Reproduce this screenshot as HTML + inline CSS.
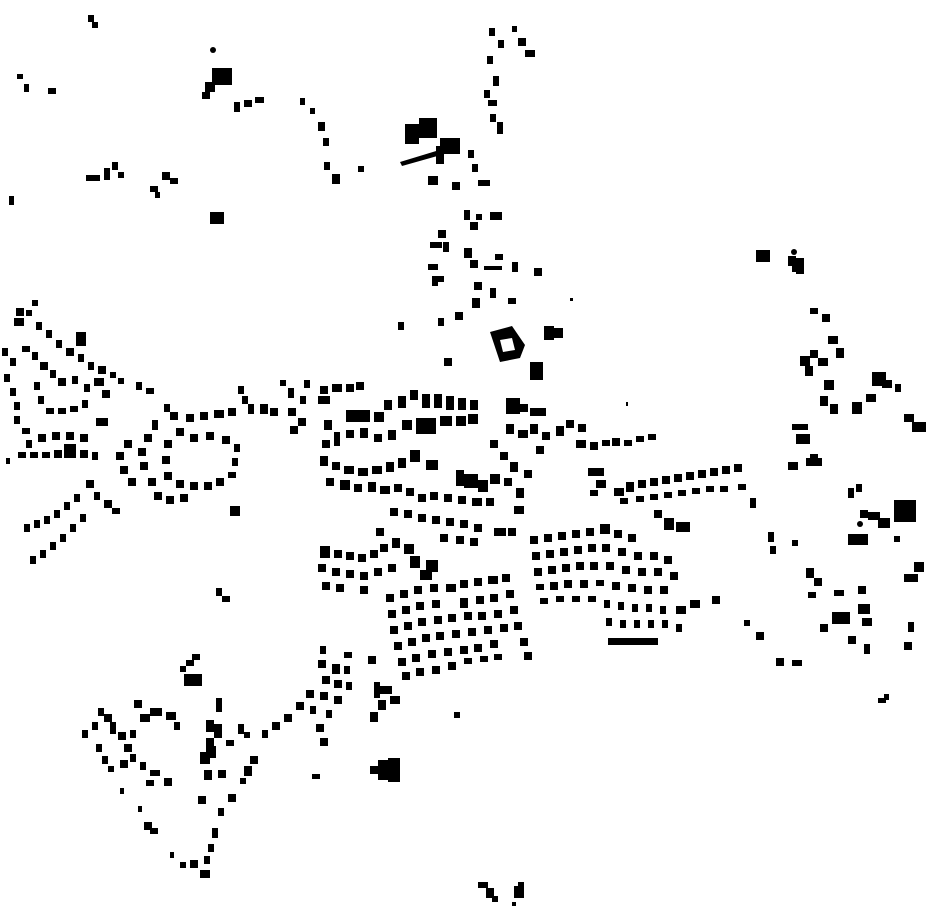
<!DOCTYPE html>
<html><head><meta charset="utf-8"><style>
html,body{margin:0;padding:0;background:#fff;width:930px;height:924px;overflow:hidden}
svg{display:block}
</style></head><body>
<svg width="930" height="924" viewBox="0 0 930 924" xmlns="http://www.w3.org/2000/svg" fill="#000">
<!-- top left -->
<rect x="88" y="15" width="6" height="7"/><rect x="92" y="22" width="6" height="6"/>
<rect x="17" y="74" width="6" height="5"/><rect x="24" y="84" width="5" height="8"/><rect x="48" y="88" width="8" height="6"/>
<circle cx="213" cy="50" r="3"/>
<rect x="212" y="68" width="20" height="17"/><rect x="205" y="82" width="10" height="10"/><rect x="202" y="92" width="8" height="7"/>
<rect x="234" y="102" width="6" height="10"/><rect x="244" y="100" width="8" height="7"/><rect x="255" y="97" width="9" height="6"/>
<rect x="300" y="98" width="5" height="7"/><rect x="310" y="108" width="5" height="6"/><rect x="318" y="122" width="7" height="9"/><rect x="323" y="138" width="6" height="8"/>
<rect x="324" y="162" width="6" height="8"/><rect x="332" y="174" width="8" height="10"/><rect x="358" y="166" width="6" height="6"/>
<rect x="86" y="175" width="14" height="6"/><rect x="104" y="168" width="6" height="12"/><rect x="112" y="162" width="6" height="8"/><rect x="118" y="172" width="6" height="6"/>
<rect x="150" y="186" width="8" height="6"/><rect x="155" y="192" width="5" height="6"/><rect x="162" y="172" width="8" height="8"/><rect x="170" y="178" width="8" height="6"/>
<rect x="9" y="196" width="5" height="9"/><rect x="210" y="212" width="14" height="12"/>
<!-- north street -->
<rect x="489" y="28" width="6" height="8"/><rect x="498" y="40" width="6" height="8"/><rect x="512" y="26" width="5" height="6"/><rect x="518" y="38" width="8" height="8"/><rect x="525" y="50" width="10" height="7"/>
<rect x="487" y="56" width="6" height="8"/><rect x="493" y="76" width="6" height="10"/><rect x="484" y="90" width="6" height="8"/><rect x="488" y="100" width="9" height="6"/>
<rect x="490" y="114" width="6" height="8"/><rect x="497" y="122" width="6" height="12"/>
<rect x="405" y="124" width="14" height="20"/><rect x="419" y="118" width="18" height="20"/><rect x="440" y="138" width="20" height="16"/>
<polygon points="400,162 446,148 448,153 402,166"/><rect x="436" y="146" width="8" height="18"/>
<rect x="428" y="176" width="10" height="9"/><rect x="468" y="150" width="6" height="8"/><rect x="472" y="164" width="6" height="8"/><rect x="478" y="180" width="12" height="6"/><rect x="452" y="182" width="8" height="8"/>
<rect x="464" y="210" width="6" height="10"/><rect x="476" y="214" width="6" height="6"/><rect x="490" y="212" width="12" height="8"/><rect x="470" y="222" width="8" height="8"/>
<rect x="438" y="230" width="8" height="8"/><rect x="430" y="242" width="12" height="6"/><rect x="443" y="242" width="6" height="10"/>
<rect x="464" y="248" width="8" height="10"/><rect x="470" y="260" width="8" height="8"/><rect x="484" y="266" width="18" height="4"/><rect x="495" y="254" width="8" height="6"/>
<rect x="512" y="262" width="6" height="10"/><rect x="534" y="268" width="8" height="8"/>
<rect x="428" y="264" width="10" height="6"/><rect x="432" y="276" width="6" height="10"/><rect x="438" y="276" width="6" height="6"/>
<rect x="474" y="282" width="8" height="8"/><rect x="490" y="288" width="6" height="10"/><rect x="508" y="298" width="8" height="6"/><rect x="472" y="298" width="8" height="10"/>
<rect x="455" y="312" width="8" height="8"/><rect x="438" y="318" width="6" height="8"/><rect x="398" y="322" width="6" height="8"/>
<path d="M490 332 L512 326 L525 345 L520 358 L500 362 Z M500 340 L503 352 L515 350 L512 338 Z" fill-rule="evenodd"/>
<rect x="544" y="326" width="10" height="14"/><rect x="553" y="328" width="10" height="10"/>
<rect x="530" y="362" width="13" height="18"/><rect x="444" y="358" width="8" height="8"/>
<!-- right east -->
<rect x="756" y="250" width="14" height="12"/><circle cx="794" cy="252" r="3"/><rect x="788" y="256" width="8" height="10"/><rect x="796" y="258" width="8" height="16"/><rect x="792" y="264" width="6" height="8"/>
<rect x="810" y="308" width="8" height="6"/><rect x="822" y="314" width="8" height="8"/>
<rect x="828" y="336" width="10" height="8"/><rect x="836" y="348" width="8" height="10"/><rect x="810" y="350" width="8" height="8"/><rect x="800" y="356" width="10" height="10"/><rect x="818" y="358" width="10" height="8"/><rect x="805" y="366" width="8" height="10"/>
<rect x="824" y="380" width="10" height="10"/><rect x="820" y="396" width="8" height="10"/><rect x="830" y="404" width="8" height="10"/>
<rect x="852" y="402" width="10" height="12"/><rect x="866" y="394" width="10" height="8"/><rect x="872" y="372" width="14" height="14"/><rect x="882" y="380" width="10" height="8"/><rect x="895" y="384" width="6" height="8"/>
<rect x="904" y="414" width="10" height="8"/><rect x="912" y="422" width="14" height="10"/>
<rect x="792" y="424" width="16" height="6"/><rect x="796" y="434" width="14" height="10"/>
<rect x="788" y="462" width="10" height="8"/><rect x="806" y="458" width="16" height="8"/><rect x="810" y="454" width="8" height="6"/>
<rect x="848" y="488" width="6" height="10"/><rect x="856" y="484" width="6" height="8"/><rect x="860" y="510" width="8" height="8"/>
<rect x="868" y="512" width="12" height="8"/><rect x="878" y="518" width="12" height="10"/><rect x="894" y="500" width="22" height="22"/>
<circle cx="860" cy="524" r="3"/><rect x="848" y="534" width="20" height="11"/><rect x="894" y="536" width="6" height="6"/>
<rect x="904" y="574" width="14" height="8"/><rect x="914" y="562" width="10" height="10"/>
<rect x="768" y="532" width="6" height="10"/><rect x="770" y="546" width="6" height="8"/><rect x="792" y="540" width="6" height="6"/>
<rect x="806" y="568" width="8" height="10"/><rect x="814" y="578" width="8" height="8"/><rect x="808" y="592" width="8" height="6"/>
<rect x="834" y="590" width="10" height="6"/><rect x="858" y="586" width="8" height="8"/><rect x="832" y="612" width="18" height="12"/>
<rect x="820" y="624" width="8" height="8"/><rect x="848" y="636" width="8" height="8"/><rect x="858" y="604" width="12" height="10"/><rect x="862" y="618" width="10" height="8"/><rect x="864" y="644" width="6" height="10"/>
<rect x="744" y="620" width="6" height="6"/><rect x="756" y="632" width="8" height="8"/><rect x="776" y="658" width="8" height="8"/><rect x="792" y="660" width="10" height="6"/>
<rect x="908" y="622" width="6" height="10"/><rect x="904" y="642" width="8" height="8"/><rect x="878" y="698" width="8" height="5"/><rect x="884" y="694" width="5" height="6"/>
<!-- east band -->
<rect x="576" y="440" width="10" height="8"/><rect x="590" y="442" width="8" height="8"/><rect x="602" y="440" width="8" height="6"/><rect x="612" y="438" width="8" height="8"/><rect x="624" y="440" width="8" height="6"/><rect x="636" y="436" width="8" height="6"/><rect x="648" y="434" width="8" height="6"/>
<rect x="588" y="468" width="16" height="8"/><rect x="596" y="480" width="10" height="8"/><rect x="590" y="490" width="8" height="6"/>
<rect x="614" y="488" width="10" height="8"/><rect x="626" y="482" width="8" height="10"/><rect x="638" y="480" width="8" height="8"/><rect x="650" y="478" width="8" height="8"/><rect x="662" y="476" width="8" height="8"/><rect x="674" y="474" width="8" height="8"/><rect x="686" y="472" width="8" height="8"/><rect x="698" y="470" width="8" height="8"/><rect x="710" y="468" width="8" height="8"/><rect x="722" y="466" width="8" height="8"/><rect x="734" y="464" width="8" height="8"/>
<rect x="620" y="498" width="8" height="6"/><rect x="636" y="496" width="8" height="6"/><rect x="650" y="494" width="8" height="6"/><rect x="664" y="492" width="8" height="6"/><rect x="678" y="490" width="8" height="6"/><rect x="692" y="488" width="8" height="6"/><rect x="706" y="486" width="8" height="6"/><rect x="720" y="486" width="8" height="6"/><rect x="738" y="484" width="8" height="6"/>
<rect x="750" y="498" width="6" height="10"/><rect x="654" y="510" width="8" height="8"/><rect x="664" y="518" width="10" height="12"/><rect x="676" y="522" width="14" height="10"/>
<!-- east grid -->
<rect x="530" y="536" width="8" height="8"/><rect x="544" y="534" width="8" height="8"/><rect x="558" y="532" width="8" height="8"/><rect x="572" y="530" width="8" height="8"/><rect x="586" y="528" width="8" height="8"/><rect x="600" y="524" width="10" height="10"/><rect x="614" y="530" width="8" height="8"/><rect x="628" y="534" width="8" height="8"/>
<rect x="532" y="552" width="8" height="8"/><rect x="546" y="550" width="8" height="8"/><rect x="560" y="548" width="8" height="8"/><rect x="574" y="546" width="8" height="8"/><rect x="588" y="544" width="8" height="8"/><rect x="602" y="544" width="8" height="8"/><rect x="618" y="548" width="8" height="8"/><rect x="634" y="552" width="8" height="8"/><rect x="650" y="552" width="8" height="8"/><rect x="664" y="556" width="8" height="8"/>
<rect x="534" y="568" width="8" height="8"/><rect x="548" y="566" width="8" height="8"/><rect x="562" y="564" width="8" height="8"/><rect x="576" y="562" width="8" height="8"/><rect x="590" y="562" width="8" height="8"/><rect x="606" y="562" width="8" height="8"/><rect x="622" y="566" width="8" height="8"/><rect x="638" y="568" width="8" height="8"/><rect x="654" y="568" width="8" height="8"/><rect x="670" y="572" width="8" height="8"/>
<rect x="536" y="584" width="8" height="6"/><rect x="550" y="582" width="8" height="8"/><rect x="564" y="580" width="8" height="8"/><rect x="580" y="580" width="8" height="8"/><rect x="596" y="580" width="8" height="6"/><rect x="612" y="582" width="8" height="8"/><rect x="628" y="584" width="8" height="8"/><rect x="644" y="586" width="8" height="8"/><rect x="660" y="586" width="8" height="8"/>
<rect x="540" y="598" width="8" height="6"/><rect x="556" y="596" width="8" height="6"/><rect x="572" y="596" width="8" height="6"/><rect x="588" y="596" width="8" height="6"/>
<rect x="604" y="600" width="6" height="8"/><rect x="618" y="602" width="6" height="8"/><rect x="632" y="604" width="6" height="8"/><rect x="646" y="604" width="6" height="8"/><rect x="660" y="606" width="6" height="8"/><rect x="676" y="606" width="10" height="8"/><rect x="690" y="600" width="10" height="8"/><rect x="712" y="596" width="8" height="8"/>
<rect x="606" y="618" width="6" height="8"/><rect x="620" y="620" width="6" height="8"/><rect x="634" y="620" width="6" height="8"/><rect x="648" y="620" width="6" height="8"/><rect x="662" y="620" width="6" height="8"/><rect x="676" y="624" width="6" height="8"/>
<rect x="608" y="638" width="50" height="7"/>
<!-- south-center grid -->
<rect x="386" y="594" width="8" height="8"/><rect x="400" y="590" width="8" height="8"/><rect x="414" y="586" width="8" height="8"/><rect x="430" y="584" width="8" height="8"/><rect x="446" y="584" width="10" height="8"/><rect x="460" y="580" width="8" height="8"/><rect x="474" y="578" width="8" height="8"/><rect x="488" y="576" width="10" height="8"/><rect x="502" y="574" width="8" height="8"/>
<rect x="388" y="610" width="8" height="8"/><rect x="402" y="606" width="8" height="8"/><rect x="416" y="602" width="8" height="8"/><rect x="432" y="600" width="8" height="8"/><rect x="460" y="598" width="8" height="10"/><rect x="476" y="596" width="8" height="8"/><rect x="490" y="594" width="8" height="8"/><rect x="506" y="590" width="8" height="8"/>
<rect x="390" y="626" width="8" height="8"/><rect x="404" y="622" width="8" height="8"/><rect x="418" y="618" width="8" height="8"/><rect x="434" y="616" width="8" height="8"/><rect x="448" y="614" width="8" height="8"/><rect x="464" y="612" width="8" height="8"/><rect x="478" y="612" width="8" height="8"/><rect x="494" y="610" width="8" height="8"/><rect x="510" y="606" width="8" height="8"/>
<rect x="394" y="642" width="8" height="8"/><rect x="408" y="638" width="8" height="8"/><rect x="422" y="634" width="8" height="8"/><rect x="436" y="632" width="8" height="8"/><rect x="452" y="630" width="8" height="8"/><rect x="468" y="628" width="8" height="8"/><rect x="484" y="626" width="8" height="8"/><rect x="500" y="624" width="8" height="8"/><rect x="514" y="622" width="8" height="8"/>
<rect x="398" y="658" width="8" height="8"/><rect x="412" y="654" width="8" height="8"/><rect x="428" y="650" width="8" height="8"/><rect x="444" y="648" width="8" height="8"/><rect x="460" y="646" width="8" height="8"/><rect x="474" y="644" width="8" height="8"/><rect x="490" y="640" width="8" height="8"/><rect x="520" y="638" width="8" height="8"/>
<rect x="402" y="672" width="8" height="8"/><rect x="416" y="668" width="8" height="8"/><rect x="432" y="666" width="8" height="8"/><rect x="448" y="662" width="8" height="8"/><rect x="464" y="658" width="8" height="6"/><rect x="480" y="656" width="8" height="6"/><rect x="494" y="654" width="8" height="6"/><rect x="524" y="652" width="8" height="8"/>
<!-- west of grid -->
<rect x="320" y="546" width="10" height="12"/><rect x="334" y="550" width="8" height="8"/><rect x="346" y="552" width="8" height="8"/><rect x="358" y="554" width="8" height="8"/><rect x="370" y="550" width="8" height="8"/><rect x="380" y="544" width="8" height="8"/><rect x="392" y="538" width="8" height="10"/><rect x="404" y="544" width="10" height="10"/><rect x="410" y="556" width="10" height="12"/>
<rect x="318" y="564" width="8" height="8"/><rect x="332" y="568" width="8" height="8"/><rect x="346" y="570" width="8" height="8"/><rect x="360" y="572" width="8" height="8"/><rect x="374" y="568" width="8" height="8"/><rect x="388" y="564" width="8" height="8"/><rect x="420" y="570" width="12" height="10"/><rect x="426" y="560" width="12" height="12"/>
<rect x="322" y="582" width="8" height="8"/><rect x="336" y="584" width="8" height="8"/><rect x="360" y="586" width="8" height="8"/>
<!-- central dense -->
<rect x="320" y="386" width="8" height="8"/><rect x="332" y="384" width="10" height="8"/><rect x="346" y="384" width="8" height="8"/><rect x="356" y="382" width="8" height="8"/><rect x="304" y="380" width="6" height="8"/><rect x="318" y="396" width="12" height="8"/>
<rect x="346" y="410" width="24" height="12"/><rect x="374" y="412" width="10" height="10"/><rect x="384" y="400" width="8" height="10"/><rect x="398" y="396" width="8" height="12"/><rect x="410" y="390" width="8" height="10"/><rect x="422" y="394" width="8" height="14"/><rect x="434" y="394" width="8" height="14"/><rect x="446" y="396" width="8" height="14"/><rect x="458" y="398" width="8" height="12"/><rect x="470" y="400" width="8" height="10"/>
<rect x="416" y="418" width="20" height="16"/><rect x="440" y="416" width="12" height="10"/><rect x="456" y="416" width="10" height="10"/><rect x="468" y="414" width="10" height="10"/><rect x="402" y="420" width="10" height="10"/>
<rect x="324" y="420" width="8" height="10"/><rect x="334" y="432" width="6" height="14"/><rect x="322" y="440" width="8" height="8"/><rect x="346" y="430" width="8" height="8"/><rect x="360" y="428" width="8" height="10"/><rect x="374" y="434" width="8" height="8"/><rect x="388" y="430" width="8" height="10"/>
<rect x="320" y="456" width="8" height="10"/><rect x="332" y="462" width="8" height="8"/><rect x="344" y="466" width="10" height="8"/><rect x="358" y="468" width="10" height="8"/><rect x="372" y="466" width="10" height="8"/><rect x="386" y="462" width="8" height="10"/><rect x="398" y="458" width="8" height="10"/><rect x="410" y="450" width="10" height="12"/><rect x="426" y="460" width="12" height="10"/>
<rect x="326" y="478" width="8" height="8"/><rect x="340" y="480" width="10" height="10"/><rect x="354" y="484" width="8" height="8"/><rect x="368" y="482" width="8" height="10"/><rect x="380" y="486" width="10" height="8"/><rect x="394" y="484" width="8" height="8"/><rect x="406" y="488" width="8" height="8"/>
<rect x="456" y="470" width="8" height="16"/><rect x="464" y="474" width="14" height="14"/><rect x="478" y="480" width="10" height="12"/><rect x="490" y="474" width="10" height="10"/>
<rect x="418" y="494" width="8" height="8"/><rect x="430" y="492" width="8" height="8"/><rect x="444" y="494" width="8" height="8"/><rect x="458" y="496" width="8" height="8"/><rect x="472" y="498" width="10" height="8"/><rect x="486" y="498" width="8" height="8"/>
<rect x="390" y="508" width="8" height="8"/><rect x="404" y="510" width="8" height="8"/><rect x="418" y="514" width="8" height="8"/><rect x="432" y="516" width="8" height="8"/><rect x="446" y="518" width="8" height="8"/><rect x="460" y="520" width="8" height="8"/><rect x="474" y="524" width="8" height="8"/><rect x="494" y="528" width="12" height="8"/><rect x="508" y="528" width="8" height="8"/>
<rect x="440" y="534" width="8" height="8"/><rect x="456" y="536" width="8" height="8"/><rect x="470" y="538" width="8" height="8"/><rect x="376" y="528" width="8" height="8"/>
<rect x="490" y="440" width="8" height="8"/><rect x="500" y="452" width="8" height="8"/><rect x="510" y="462" width="8" height="10"/><rect x="504" y="478" width="8" height="8"/><rect x="516" y="488" width="8" height="10"/><rect x="514" y="506" width="10" height="8"/><rect x="524" y="470" width="8" height="8"/>
<rect x="506" y="398" width="14" height="16"/><rect x="520" y="404" width="8" height="8"/><rect x="530" y="408" width="16" height="8"/><rect x="506" y="424" width="8" height="10"/><rect x="518" y="430" width="10" height="8"/><rect x="530" y="424" width="8" height="10"/><rect x="542" y="432" width="8" height="8"/><rect x="556" y="426" width="8" height="10"/><rect x="566" y="420" width="8" height="8"/><rect x="578" y="424" width="8" height="8"/><rect x="536" y="446" width="8" height="8"/>
<rect x="280" y="380" width="6" height="6"/><rect x="288" y="388" width="6" height="10"/><rect x="300" y="396" width="6" height="8"/><rect x="288" y="408" width="8" height="8"/><rect x="298" y="418" width="8" height="8"/><rect x="290" y="426" width="8" height="8"/>
<rect x="260" y="404" width="8" height="10"/><rect x="270" y="408" width="8" height="8"/><rect x="248" y="404" width="6" height="10"/><rect x="238" y="386" width="6" height="8"/><rect x="242" y="396" width="6" height="8"/>
<!-- west rings -->
<rect x="214" y="410" width="10" height="8"/><rect x="228" y="408" width="8" height="8"/><rect x="200" y="412" width="8" height="8"/><rect x="186" y="414" width="8" height="8"/><rect x="170" y="412" width="8" height="8"/><rect x="164" y="404" width="6" height="8"/>
<rect x="176" y="428" width="8" height="8"/><rect x="190" y="434" width="8" height="8"/><rect x="206" y="432" width="8" height="8"/><rect x="222" y="436" width="8" height="8"/><rect x="234" y="444" width="6" height="8"/><rect x="232" y="458" width="6" height="8"/><rect x="228" y="472" width="8" height="6"/>
<rect x="164" y="440" width="8" height="8"/><rect x="162" y="456" width="8" height="8"/><rect x="164" y="472" width="8" height="8"/><rect x="176" y="480" width="8" height="8"/><rect x="190" y="482" width="8" height="8"/><rect x="204" y="482" width="8" height="8"/><rect x="216" y="478" width="8" height="8"/>
<rect x="152" y="420" width="6" height="10"/><rect x="144" y="434" width="8" height="8"/><rect x="138" y="448" width="8" height="8"/><rect x="140" y="462" width="8" height="8"/><rect x="148" y="478" width="8" height="8"/><rect x="154" y="492" width="8" height="8"/><rect x="166" y="496" width="8" height="8"/><rect x="180" y="494" width="8" height="8"/>
<rect x="124" y="440" width="8" height="8"/><rect x="116" y="452" width="8" height="8"/><rect x="120" y="466" width="8" height="8"/><rect x="128" y="478" width="8" height="8"/>
<rect x="230" y="506" width="10" height="10"/>
<rect x="86" y="480" width="8" height="8"/><rect x="94" y="492" width="6" height="8"/><rect x="104" y="500" width="8" height="8"/><rect x="112" y="508" width="8" height="6"/><rect x="74" y="494" width="6" height="8"/><rect x="64" y="502" width="6" height="8"/><rect x="54" y="510" width="6" height="8"/><rect x="44" y="516" width="6" height="8"/><rect x="34" y="520" width="6" height="8"/><rect x="24" y="524" width="6" height="8"/>
<rect x="80" y="514" width="6" height="8"/><rect x="70" y="524" width="6" height="8"/><rect x="60" y="534" width="6" height="8"/><rect x="50" y="542" width="6" height="8"/><rect x="40" y="550" width="6" height="8"/><rect x="30" y="556" width="6" height="8"/>
<!-- far west arcs -->
<rect x="16" y="308" width="8" height="8"/><rect x="14" y="318" width="10" height="8"/><rect x="26" y="310" width="6" height="6"/><rect x="32" y="300" width="6" height="6"/><rect x="36" y="322" width="6" height="8"/><rect x="46" y="330" width="6" height="8"/><rect x="56" y="340" width="6" height="8"/><rect x="66" y="348" width="8" height="8"/><rect x="76" y="332" width="10" height="14"/><rect x="78" y="354" width="6" height="8"/><rect x="88" y="362" width="6" height="8"/><rect x="98" y="366" width="8" height="8"/><rect x="110" y="372" width="6" height="6"/><rect x="118" y="378" width="6" height="6"/><rect x="136" y="382" width="6" height="8"/><rect x="146" y="388" width="8" height="6"/>
<rect x="2" y="348" width="6" height="8"/><rect x="10" y="358" width="6" height="8"/><rect x="22" y="346" width="8" height="6"/><rect x="32" y="352" width="6" height="8"/><rect x="40" y="362" width="8" height="8"/><rect x="50" y="370" width="6" height="8"/><rect x="58" y="378" width="8" height="8"/><rect x="72" y="376" width="6" height="8"/><rect x="84" y="384" width="6" height="8"/><rect x="94" y="378" width="10" height="8"/><rect x="102" y="390" width="8" height="8"/>
<rect x="4" y="374" width="6" height="8"/><rect x="10" y="388" width="6" height="8"/><rect x="14" y="402" width="6" height="8"/><rect x="14" y="416" width="6" height="8"/><rect x="22" y="428" width="8" height="6"/>
<rect x="34" y="382" width="6" height="8"/><rect x="38" y="396" width="6" height="8"/><rect x="46" y="408" width="8" height="6"/><rect x="58" y="408" width="8" height="6"/><rect x="70" y="406" width="8" height="6"/><rect x="82" y="400" width="6" height="8"/>
<rect x="96" y="418" width="12" height="8"/><rect x="26" y="440" width="6" height="8"/><rect x="38" y="434" width="8" height="8"/><rect x="52" y="432" width="8" height="8"/><rect x="66" y="432" width="8" height="8"/><rect x="80" y="434" width="8" height="8"/>
<rect x="18" y="452" width="8" height="6"/><rect x="30" y="452" width="8" height="6"/><rect x="42" y="452" width="8" height="6"/><rect x="54" y="450" width="8" height="8"/><rect x="64" y="444" width="12" height="14"/><rect x="80" y="450" width="8" height="8"/><rect x="92" y="452" width="6" height="8"/><rect x="6" y="458" width="4" height="6"/>
<!-- south west -->
<rect x="216" y="588" width="6" height="8"/><rect x="222" y="596" width="8" height="6"/>
<rect x="186" y="660" width="8" height="6"/><rect x="192" y="654" width="8" height="6"/><rect x="180" y="666" width="6" height="6"/><rect x="184" y="674" width="18" height="12"/>
<rect x="320" y="646" width="6" height="8"/><rect x="344" y="652" width="8" height="6"/><rect x="318" y="660" width="8" height="8"/><rect x="332" y="664" width="8" height="10"/><rect x="344" y="666" width="6" height="8"/><rect x="322" y="676" width="8" height="8"/><rect x="334" y="680" width="8" height="8"/><rect x="346" y="682" width="6" height="8"/><rect x="368" y="656" width="8" height="8"/>
<rect x="306" y="690" width="8" height="8"/><rect x="320" y="692" width="8" height="8"/><rect x="334" y="696" width="8" height="8"/><rect x="296" y="702" width="8" height="8"/><rect x="310" y="706" width="6" height="8"/><rect x="326" y="710" width="6" height="8"/>
<rect x="284" y="714" width="8" height="8"/><rect x="272" y="722" width="8" height="8"/><rect x="262" y="730" width="6" height="8"/><rect x="316" y="724" width="8" height="8"/><rect x="320" y="738" width="8" height="8"/>
<rect x="374" y="682" width="6" height="16"/><rect x="380" y="686" width="12" height="8"/><rect x="390" y="696" width="10" height="8"/><rect x="378" y="700" width="8" height="10"/><rect x="370" y="712" width="8" height="10"/><rect x="454" y="712" width="6" height="6"/>
<rect x="370" y="766" width="12" height="8"/><rect x="378" y="760" width="12" height="20"/><rect x="388" y="758" width="12" height="24"/><rect x="312" y="774" width="8" height="5"/>
<rect x="82" y="730" width="6" height="8"/><rect x="92" y="722" width="6" height="8"/><rect x="98" y="708" width="6" height="8"/><rect x="104" y="714" width="8" height="8"/><rect x="110" y="722" width="6" height="12"/><rect x="118" y="732" width="8" height="8"/><rect x="130" y="730" width="6" height="8"/><rect x="134" y="700" width="8" height="8"/><rect x="140" y="714" width="10" height="8"/><rect x="150" y="708" width="12" height="8"/><rect x="166" y="712" width="10" height="8"/><rect x="174" y="722" width="6" height="8"/>
<rect x="96" y="744" width="6" height="8"/><rect x="102" y="756" width="6" height="8"/><rect x="108" y="766" width="6" height="6"/><rect x="124" y="744" width="8" height="8"/><rect x="130" y="754" width="6" height="8"/><rect x="120" y="760" width="8" height="8"/><rect x="140" y="762" width="6" height="8"/><rect x="150" y="770" width="10" height="6"/><rect x="164" y="778" width="8" height="8"/><rect x="146" y="780" width="8" height="6"/>
<rect x="120" y="788" width="4" height="6"/><rect x="138" y="806" width="4" height="6"/><rect x="144" y="822" width="8" height="8"/><rect x="150" y="828" width="8" height="6"/><rect x="170" y="852" width="4" height="6"/><rect x="180" y="862" width="6" height="6"/><rect x="190" y="860" width="8" height="8"/><rect x="200" y="870" width="10" height="8"/>
<rect x="216" y="698" width="6" height="14"/><rect x="206" y="720" width="8" height="12"/><rect x="214" y="724" width="8" height="14"/><rect x="206" y="738" width="8" height="14"/><rect x="200" y="752" width="10" height="12"/><rect x="210" y="746" width="6" height="12"/><rect x="204" y="770" width="8" height="10"/><rect x="218" y="770" width="8" height="8"/><rect x="226" y="740" width="8" height="6"/><rect x="238" y="724" width="6" height="10"/><rect x="244" y="732" width="6" height="6"/><rect x="250" y="756" width="8" height="8"/><rect x="244" y="766" width="8" height="10"/><rect x="240" y="778" width="6" height="6"/>
<rect x="198" y="796" width="8" height="8"/><rect x="228" y="794" width="8" height="8"/><rect x="218" y="808" width="6" height="8"/><rect x="212" y="828" width="6" height="10"/><rect x="208" y="844" width="6" height="8"/><rect x="204" y="856" width="6" height="8"/>
<rect x="478" y="882" width="10" height="6"/><rect x="486" y="888" width="8" height="10"/><rect x="492" y="896" width="6" height="6"/><rect x="514" y="886" width="10" height="12"/><rect x="518" y="882" width="6" height="6"/><rect x="512" y="902" width="4" height="4"/>
<rect x="570" y="298" width="3" height="3"/><rect x="626" y="402" width="2" height="4"/>
</svg>
</body></html>
